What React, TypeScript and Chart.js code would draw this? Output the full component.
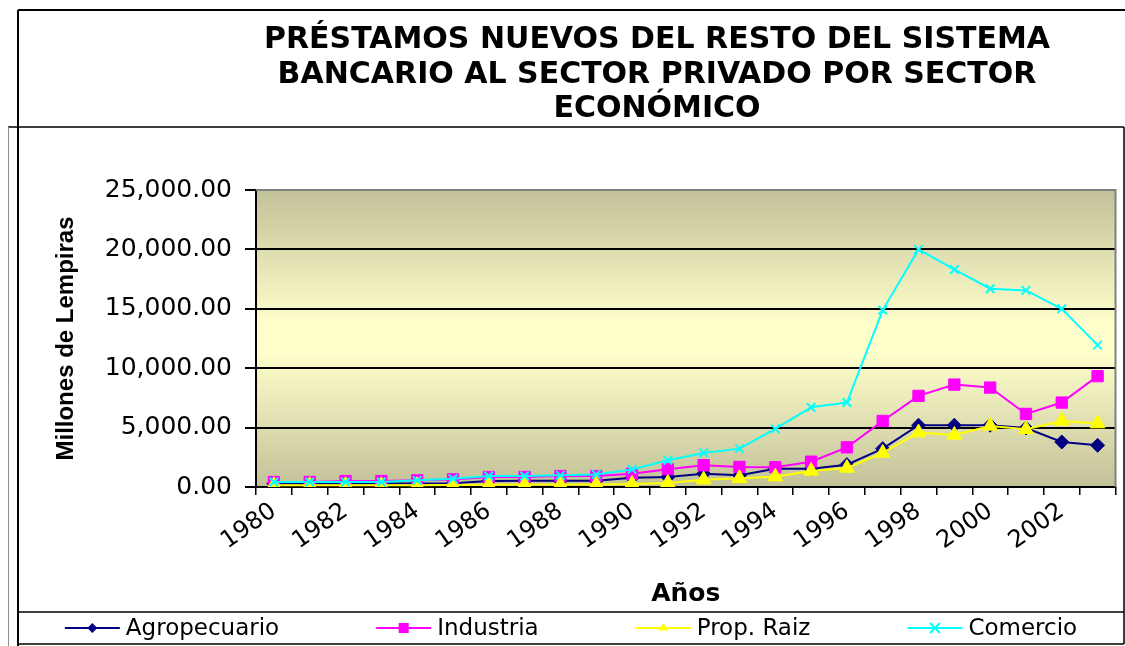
import React, { useEffect, useRef } from 'react';
import { Chart, registerables } from 'chart.js';

Chart.register(...registerables);

const years = [1980, 1981, 1982, 1983, 1984, 1985, 1986, 1987, 1988, 1989, 1990, 1991, 1992, 1993, 1994, 1995, 1996, 1997, 1998, 1999, 2000, 2001, 2002, 2003];
const agropecuario = [280, 280, 290, 300, 300, 320, 500, 520, 520, 520, 780, 840, 1120, 980, 1540, 1540, 1880, 3230, 5200, 5200, 5200, 4970, 3790, 3510];
const industria = [420, 420, 500, 500, 560, 640, 840, 840, 920, 920, 1120, 1500, 1830, 1690, 1660, 2130, 3340, 5560, 7670, 8620, 8370, 6150, 7110, 9330];
const propRaiz = [150, 150, 150, 150, 150, 160, 180, 200, 200, 220, 260, 340, 620, 730, 870, 1350, 1600, 2870, 4580, 4380, 5140, 4860, 5560, 5340];
const comercio = [420, 420, 420, 420, 560, 700, 920, 920, 980, 1060, 1480, 2250, 2870, 3230, 4890, 6710, 7110, 14890, 20000, 18310, 16690, 16550, 15000, 11940];

const seriesNames = ['Agropecuario', 'Industria', 'Prop. Raiz', 'Comercio'];
const seriesColors = ['#000080', '#FF00FF', '#FFFF00', '#00FFFF'];
const seriesMarkers = ['rectRot', 'rect', 'triangle', 'crossRot'];
const seriesRadii = [7, 8, 8.5, 6];

const titleLines = ['PRÉSTAMOS NUEVOS DEL RESTO DEL SISTEMA', 'BANCARIO AL SECTOR PRIVADO POR SECTOR', 'ECONÓMICO'];
const yAxisTitle = 'Millones de Lempiras';
const xAxisTitle = 'Años';
const yMin = 0;
const yMax = 25000;
const yStep = 5000;

function drawMarker(ctx: CanvasRenderingContext2D, style: string, x: number, y: number, r: number, color: string) {
  ctx.save();
  ctx.fillStyle = color;
  ctx.strokeStyle = color;
  ctx.lineWidth = 2;
  ctx.beginPath();
  if (style === 'rectRot') {
    ctx.moveTo(x, y - r);
    ctx.lineTo(x + r, y);
    ctx.lineTo(x, y + r);
    ctx.lineTo(x - r, y);
    ctx.closePath();
    ctx.fill();
  } else if (style === 'rect') {
    ctx.rect(x - r, y - r, 2 * r, 2 * r);
    ctx.fill();
  } else if (style === 'triangle') {
    ctx.moveTo(x, y - r);
    ctx.lineTo(x + r * 0.866 * 1.2, y + r * 0.5);
    ctx.lineTo(x - r * 0.866 * 1.2, y + r * 0.5);
    ctx.closePath();
    ctx.fill();
  } else {
    ctx.moveTo(x - r, y - r);
    ctx.lineTo(x + r, y + r);
    ctx.moveTo(x + r, y - r);
    ctx.lineTo(x - r, y + r);
    ctx.stroke();
  }
  ctx.restore();
}

const backgroundPlugin = {
  id: 'plotBackground',
  beforeDraw(chart: any) {
    const { ctx, chartArea } = chart;
    const { left, top, right, bottom } = chartArea;
    const g = ctx.createLinearGradient(0, top, 0, bottom);
    g.addColorStop(0, '#C2C198');
    g.addColorStop(0.45, '#FFFFCC');
    g.addColorStop(0.55, '#FFFFCC');
    g.addColorStop(1, '#C2C198');
    ctx.save();
    ctx.fillStyle = '#FFFFFF';
    ctx.fillRect(0, 0, chart.width, chart.height);
    ctx.fillStyle = g;
    ctx.fillRect(left, top, right - left, bottom - top);
    ctx.restore();
  },
};

const framePlugin = {
  id: 'frames',
  afterDraw(chart: any) {
    const { ctx, chartArea } = chart;
    ctx.save();
    ctx.strokeStyle = '#808080';
    ctx.lineWidth = 2;
    ctx.beginPath();
    ctx.moveTo(chartArea.left, chartArea.top);
    ctx.lineTo(chartArea.right, chartArea.top);
    ctx.lineTo(chartArea.right, chartArea.bottom);
    ctx.stroke();

    ctx.strokeStyle = '#000000';
    ctx.lineWidth = 2;
    ctx.beginPath();
    ctx.moveTo(18, 10);
    ctx.lineTo(1125, 10);
    ctx.moveTo(18, 10);
    ctx.lineTo(18, 646);
    ctx.stroke();
    ctx.lineWidth = 1.5;
    ctx.beginPath();
    ctx.moveTo(8, 127);
    ctx.lineTo(1124, 127);
    ctx.moveTo(1124, 127);
    ctx.lineTo(1124, 644);
    ctx.moveTo(18, 612);
    ctx.lineTo(1124, 612);
    ctx.moveTo(18, 644);
    ctx.lineTo(1124, 644);
    ctx.stroke();
    ctx.strokeStyle = '#909090';
    ctx.lineWidth = 1;
    ctx.beginPath();
    ctx.moveTo(8.5, 127);
    ctx.lineTo(8.5, 646);
    ctx.stroke();

    ctx.fillStyle = '#000000';
    ctx.font = 'bold 30px "DejaVu Sans"';
    ctx.textAlign = 'center';
    ctx.textBaseline = 'alphabetic';
    const baselines = [48, 83, 117];
    titleLines.forEach((t, i) => ctx.fillText(t, 657, baselines[i]));

    ctx.font = '23px "DejaVu Sans"';
    ctx.textBaseline = 'middle';
    ctx.textAlign = 'left';
    const sample = 55;
    const gapText = 6;
    const gapItem = 97;
    const widths = seriesNames.map((n) => sample + gapText + ctx.measureText(n).width);
    const total = widths.reduce((a, b) => a + b, 0) + gapItem * (widths.length - 1);
    let x = (18 + 1124) / 2 - total / 2;
    const y = 628;
    seriesNames.forEach((n, i) => {
      ctx.strokeStyle = seriesColors[i];
      ctx.lineWidth = 2;
      ctx.beginPath();
      ctx.moveTo(x, y);
      ctx.lineTo(x + sample, y);
      ctx.stroke();
      drawMarker(ctx, seriesMarkers[i], x + sample / 2, y, 5, seriesColors[i]);
      ctx.fillStyle = '#000000';
      ctx.fillText(n, x + sample + gapText, y + 1);
      x += widths[i] + gapItem;
    });
    ctx.restore();
  },
};

export default function App() {
  const canvasRef = useRef<HTMLCanvasElement | null>(null);

  useEffect(() => {
    const canvas = canvasRef.current;
    if (!canvas) return;
    const seriesData = [agropecuario, industria, propRaiz, comercio];
    const chart = new Chart(canvas, {
      type: 'line',
      data: {
        labels: years.map(String),
        datasets: seriesData.map((d, i) => ({
          label: seriesNames[i],
          data: d,
          borderColor: seriesColors[i],
          backgroundColor: seriesColors[i],
          borderWidth: 2,
          pointStyle: seriesMarkers[i] as any,
          pointRadius: seriesRadii[i],
          pointBorderWidth: i === 3 ? 2 : 1,
          pointBorderColor: seriesColors[i],
          pointBackgroundColor: seriesColors[i],
          tension: 0,
          fill: false,
          order: seriesData.length - 1 - i,
        })),
      },
      options: {
        responsive: false,
        animation: false,
        devicePixelRatio: 1,
        events: [],
        layout: { padding: { left: 20, right: 8, top: 190, bottom: 34 } },
        plugins: {
          legend: { display: false },
          title: { display: false },
          tooltip: { enabled: false },
        },
        scales: {
          x: {
            type: 'category',
            offset: true,
            grid: {
              offset: true,
              drawOnChartArea: false,
              drawTicks: true,
              tickLength: 8,
              color: '#000000',
              tickColor: '#000000',
              lineWidth: 1.5,
            },
            border: { display: true, color: '#000000', width: 2 },
            ticks: {
              autoSkip: false,
              maxRotation: 35,
              minRotation: 35,
              padding: 2,
              color: '#000000',
              font: { family: 'DejaVu Sans', size: 24 },
              callback: (_v: any, i: number) => (i % 2 === 0 ? String(years[i]) : ''),
            },
            title: {
              display: true,
              text: xAxisTitle,
              color: '#000000',
              font: { family: 'DejaVu Sans', size: 25, weight: 'bold' },
              padding: { top: 0, bottom: 3 },
            },
            afterFit: (scale: any) => {
              scale.height = 125;
            },
          },
          y: {
            min: yMin,
            max: yMax,
            grid: {
              color: (c: any) => (c.tick && c.tick.value === yMax ? '#808080' : '#000000'),
              tickColor: '#000000',
              lineWidth: 2,
              tickLength: 11,
            },
            border: { display: true, color: '#000000', width: 2 },
            ticks: {
              stepSize: yStep,
              padding: 13,
              color: '#000000',
              font: { family: 'DejaVu Sans', size: 25 },
              callback: (v: any) => Number(v).toLocaleString('en-US', { minimumFractionDigits: 2, maximumFractionDigits: 2 }),
            },
            title: {
              display: true,
              text: yAxisTitle,
              color: '#000000',
              font: { family: 'Liberation Sans', size: 24, weight: 'bold' },
              padding: { top: 32, bottom: 0 },
            },
            afterFit: (scale: any) => {
              scale.width = 236;
            },
          },
        },
      },
      plugins: [backgroundPlugin, framePlugin],
    });
    return () => chart.destroy();
  }, []);

  return (
    <div style={{ position: 'absolute', left: 0, top: 0, width: 1125, height: 646, background: '#FFFFFF' }}>
      <canvas ref={canvasRef} width={1125} height={646} style={{ display: 'block', width: 1125, height: 646 }} />
    </div>
  );
}
